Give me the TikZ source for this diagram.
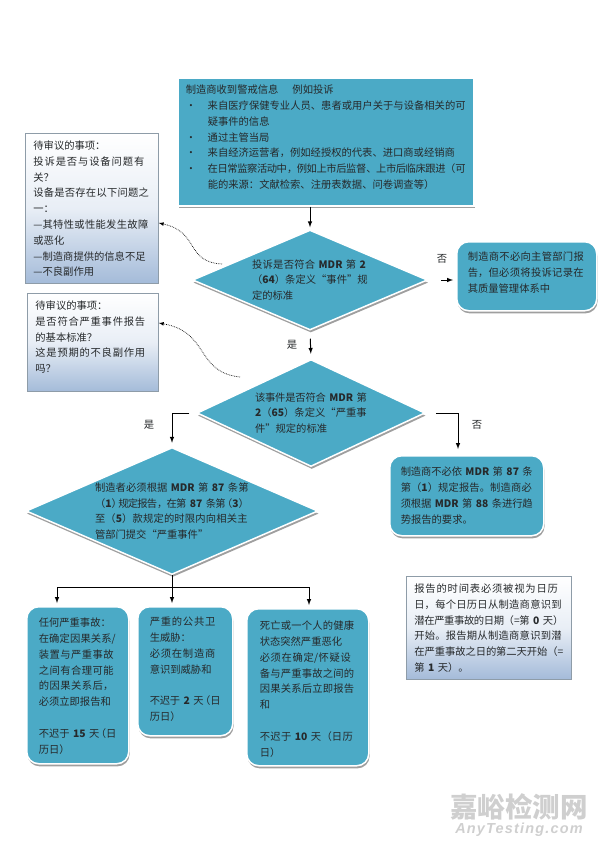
\documentclass[tikz,border=0pt]{standalone}
\usepackage{fontspec}
\setmainfont{Noto Sans CJK SC}
\newfontfamily\markfont[LetterSpace=8]{Liberation Sans}
\usetikzlibrary{arrows}
\usetikzlibrary{calc}
\usetikzlibrary{shadows}
\usetikzlibrary{shapes.geometric}
\XeTeXlinebreaklocale "zh"
\XeTeXlinebreakskip=0pt plus 3pt minus 0.9pt
\tolerance=5000
\definecolor{flowblue}{HTML}{4BAAC6}
\definecolor{noteblue}{HTML}{A4BBD9}
\definecolor{notegray}{HTML}{8E9CA8}
\definecolor{inkgray}{HTML}{26292B}
\definecolor{markgray}{HTML}{CFCFCF}
\newcommand{\brk}{\linebreak}
\newcommand{\lp}{\kern-3.5pt （}
\newcommand{\rp}{）\kern-3.5pt }
\newcommand{\dotitem}{\par\hangindent=22pt\hangafter=1\noindent\makebox[22pt][l]{·}}
\tikzset{
	every node/.style={font=\fontsize{10.3}{15.8}\selectfont, text=inkgray},
	flowshadow/.style={drop shadow={shadow xshift=0.8pt, shadow yshift=-2.6pt, fill=gray!75, opacity=1}},
	flowbox/.style={rectangle, fill=flowblue, draw=white, line width=1.5pt, flowshadow, anchor=north west, inner ysep=0pt, text height=20pt},
	roundbox/.style={flowbox, rounded corners=12pt},
	notebox/.style={rectangle, draw=notegray, line width=0.8pt, top color=white, bottom color=noteblue, middle color=white!75!noteblue, anchor=north west, inner xsep=8pt, inner ysep=0pt, text height=16pt,
		drop shadow={shadow xshift=0.6pt, shadow yshift=-1pt, fill=gray!70, opacity=1}},
	flowdec/.style={diamond, fill=flowblue, draw=white, line width=1.5pt, flowshadow, inner sep=0pt},
	answer/.style={font=\fontsize{10.3}{12}\selectfont},
	flow/.style={draw=black, line width=1pt, -latex},
	hint/.style={draw=black, densely dotted, line width=0.7pt, -latex}
}
\begin{document}
\begin{tikzpicture}[x=1pt, y=-1pt]
	\useasboundingbox (0,0) rectangle (600,848);
	
	\node[flowbox, inner xsep=8pt, text width=280pt, text height=15pt, text depth=112pt] (alert) at (177,78) {
		制造商收到警戒信息\hspace{14pt}例如投诉
		\dotitem 来自医疗保健专业人员、患者或用户关于与设备相关的可\brk 疑事件的信息
		\dotitem 通过主管当局
		\dotitem 来自经济运营者，例如经授权的代表、进口商或经销商
		\dotitem 在日常监察活动中，例如上市后监督、上市后临床跟进（可\brk 能的来源：文献检索、注册表数据、问卷调查等）\par
	};
	
	\node[notebox, text width=117pt, text depth=134pt] (issueone) at (25,133) {
		待审议的事项：\\
		投诉是否与设备问题有\brk 关？\\
		设备是否存在以下问题之\brk 一：\\
		—其特性或性能发生故障\brk 或恶化\\
		—制造商提供的信息不足\\
		—不良副作用
	};
	\node[notebox, text width=115pt, text depth=82pt] (issuetwo) at (27,293) {
		待审议的事项：\\
		是否符合严重事件报告\brk 的基本标准？\\
		这是预期的不良副作用\brk 吗？
	};
	
	\node[flowdec, shape aspect=2.35, text width=116pt, minimum width=235pt, minimum height=100pt] (eventdec) at (310,280) {
		投诉是否符合 \textbf{MDR} 第 \textbf{2}\brk （\textbf{64}）条定义“事件”规\brk 定的标准
	};
	\node[roundbox, inner xsep=11pt, text width=118pt, text height=19pt, text depth=50pt] (noreport) at (456,241) {
		制造商不必向主管部门报\brk 告，但必须将投诉记录在\brk 其质量管理体系中
	};
	
	\node[flowdec, shape aspect=2.13, text width=112pt, minimum width=228pt, minimum height=107pt] (seriousdec) at (311,413) {
		该事件是否符合 \textbf{MDR} 第\brk \textbf{2}（\textbf{65}）条定义“严重事\brk 件”规定的标准
	};
	\node[roundbox, inner xsep=11pt, text width=132pt, text depth=60pt] (trendbox) at (389,455) {
		制造商不必依 \textbf{MDR} 第 \textbf{87} 条\brk 第（\textbf{1}）规定报告。制造商必\brk 须根据 \textbf{MDR} 第 \textbf{88} 条进行趋\brk 势报告的要求。
	};
	
	\node[flowdec, shape aspect=2.3, inner sep=-4pt, text width=154pt, minimum width=292pt, minimum height=127pt] (reportdec) at (172,511) {
		制造者必须根据 \textbf{MDR} 第 \textbf{87} 条第\brk \lp\textbf{1}\rp 规定报告，在第 \textbf{87} 条第\lp\textbf{3}）\brk 至（\textbf{5}）款规定的时限内向相关主\brk 管部门提交“严重事件”
	};
	\node[notebox, text width=149pt, text depth=87pt] (timenote) at (406,576) {
		报告的时间表必须被视为日历\brk 日，每个日历日从制造商意识到\brk 潜在严重事故的日期（=第 \textbf{0} 天）\brk 开始。报告期从制造商意识到潜\brk 在严重事故之日的第二天开始（=\brk 第 \textbf{1} 天）。
	};
	
	\node[roundbox, inner xsep=12pt, text width=78pt, text depth=137pt] (caseone) at (26,606) {
		任何严重事故：\\
		在确定因果关系/\brk 装置与严重事故\brk 之间有合理可能\brk 的因果关系后，\brk 必须立即报告和\\[15.8pt]
		不迟于 \textbf{15} 天\lp 日\brk 历日）
	};
	\node[roundbox, inner xsep=12pt, text width=71pt, text height=19pt, text depth=110pt] (casetwo) at (137,606) {
		严重的公共卫\brk 生威胁：\\
		必须在制造商\brk 意识到威胁和\\[15.8pt]
		不迟于 \textbf{2} 天\lp 日\brk 历日）
	};
	\node[roundbox, inner xsep=13pt, text width=96pt, text height=21pt, text depth=136pt] (casethree) at (246,608) {
		死亡或一个人的健康\brk 状态突然严重恶化\\
		必须在确定/怀疑设\brk 备与严重事故之间的\brk 因果关系后立即报告\brk 和\\[15.8pt]
		不迟于 \textbf{10} 天（日历\brk 日）
	};
	
	\coordinate (split) at (172,587);
	\coordinate (splitleft) at (57,587);
	\coordinate (splitright) at (309,587);
	\coordinate (trendtop) at (458,455);
	\draw[flow, shorten >=2pt] (alert.south -| eventdec.north) -- (eventdec.north);
	\draw[flow, shorten <=13pt, shorten >=3pt] (eventdec.east) -- (noreport.west |- eventdec.east);
	\draw[flow, shorten <=8pt, shorten >=5pt] (eventdec.south) -- (seriousdec.north);
	\draw[flow, shorten <=7pt, shorten >=4pt] (seriousdec.west) -| (reportdec.north);
	\draw[flow, shorten <=10pt, shorten >=6pt] (seriousdec.east) -| (trendtop);
	\draw[line width=1pt] (reportdec.south) -- (split);
	\draw[line width=1pt] (splitleft) -- (splitright);
	\draw[flow, shorten >=3pt] (splitleft) -- (caseone.north -| splitleft);
	\draw[flow, shorten >=3pt] (split) -- (casetwo.north -| split);
	\draw[flow, shorten >=3pt] (splitright) -- (casethree.north -| splitright);
	\draw[hint] (222,264) .. controls (185,262) and (200,232) .. (issueone.east |- 0,223);
	\draw[hint] (240,377) .. controls (195,372) and (210,332) .. (issuetwo.east |- 0,323);
	
	\node[answer] (nolabelone) at (442,259) {否};
	\node[answer] (yeslabelone) at (292,345) {是};
	\node[answer] (yeslabeltwo) at (149,425) {是};
	\node[answer] (nolabeltwo) at (477,425) {否};
	
	\node[text=markgray, font=\fontsize{27.5}{30}\bfseries\selectfont, inner sep=0pt] (markname) at (519,807) {嘉峪检测网};
	\node[text=markgray, font=\fontsize{14.5}{16}\markfont\bfseries\itshape\selectfont, inner sep=0pt] (markweb) at (519,830) {AnyTesting.com};
\end{tikzpicture}
\end{document}
